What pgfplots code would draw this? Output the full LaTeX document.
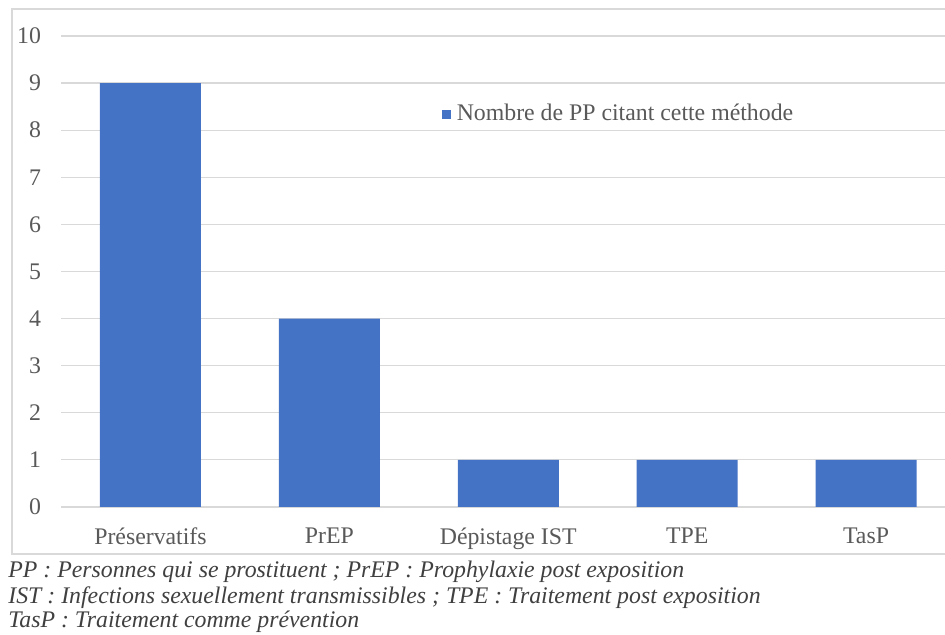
\documentclass[border=0pt]{standalone}
\usepackage{fontspec}
\setmainfont{Liberation Serif}
\usepackage{pgfplots}
\pgfplotsset{compat=1.18}
\definecolor{barblue}{HTML}{4472C4}
\definecolor{gridgray}{HTML}{D9D9D9}
\definecolor{textgray}{HTML}{595959}
\definecolor{notegray}{HTML}{404040}
\begin{document}
\begin{tikzpicture}[x=0.5pt,y=0.5pt]
\useasboundingbox (0,0) rectangle (945,635);
\clip (0,0) rectangle (945,635);
\draw[gridgray, line width=0.6pt] (12,626) rectangle (970,81);
\begin{axis}[
  at={(30.5pt,64pt)}, anchor=south west,
  scale only axis, width=447.25pt, height=235.5pt,
  ymin=0, ymax=10, xmin=-0.5, xmax=4.5,
  ytick={0,1,...,10},
  xtick={0,1,2,3,4},
  xticklabels={Préservatifs, PrEP, Dépistage IST, TPE, TasP},
  ymajorgrids, grid style={gridgray, line width=0.6pt},
  axis line style={draw=none},
  major tick length=0pt,
  tick style={draw=none},
  /pgf/number format/assume math mode=true,
  tick label style={font=\fontsize{11.9}{13.5}\selectfont, text=textgray},
  yticklabel style={xshift=-6.5pt},
  xticklabel style={yshift=-7pt},
  ybar, bar width=50.5pt,
  legend style={at={(0.425,0.834)}, anchor=west, draw=none, fill=none,
    font=\fontsize{11.9}{13.5}\selectfont, text=textgray, inner sep=0pt,
    legend cell align=left},
  legend image code/.code={\fill[barblue] (0pt,-2.3pt) rectangle (4.6pt,2.3pt);},
]
\addplot[fill=barblue, draw=none] coordinates {(0,9) (1,4) (2,1) (3,1) (4,1)};
\addlegendentry{\hspace{1pt}Nombre de PP citant cette méthode}
\end{axis}
\begin{scope}[every node/.style={anchor=west, inner sep=0pt, font=\fontsize{11.9}{13.5}\selectfont\itshape, text=notegray}]
\node at (8,63) {PP : Personnes qui se prostituent ; PrEP : Prophylaxie post exposition};
\node at (8,37) {IST : Infections sexuellement transmissibles ; TPE : Traitement post exposition};
\node at (8,13) {TasP : Traitement comme prévention};
\end{scope}
\end{tikzpicture}
\end{document}
